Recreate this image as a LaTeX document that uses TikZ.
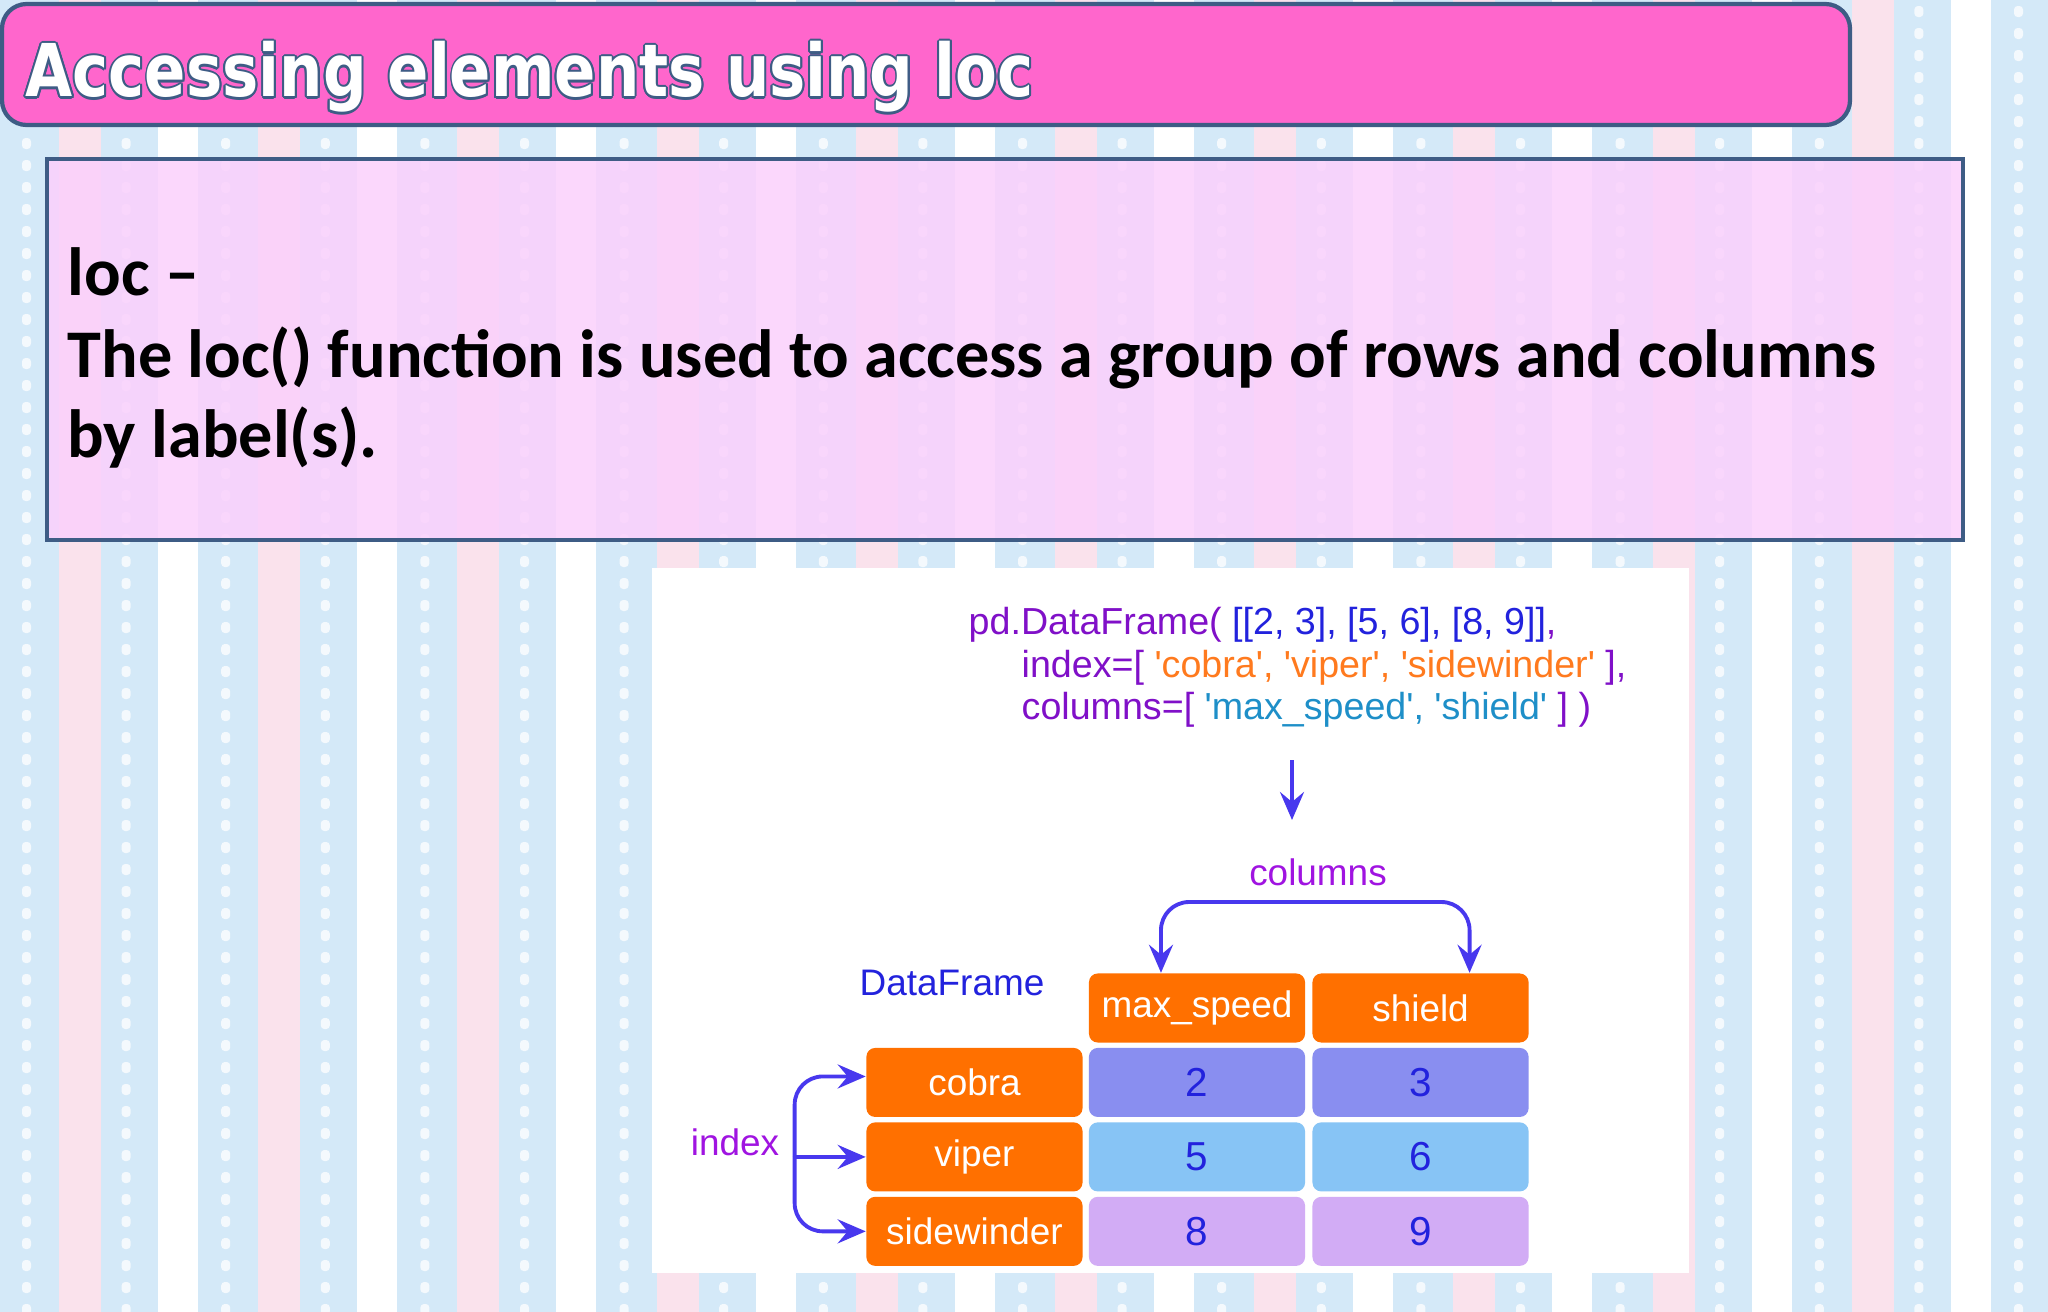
\documentclass[tikz,border=0pt]{standalone}
\usepackage{fontspec}
\setmainfont{Carlito}
\newfontfamily\titlefont{DejaVu Sans Condensed}
\newfontfamily\codefont{Liberation Sans}[Ligatures=TeXOff]
\usepackage{contour}
\usetikzlibrary{positioning}
\usetikzlibrary{arrows.meta}
\usetikzlibrary{calc}
\definecolor{figFondo}{RGB}{212,233,248}
\definecolor{figRaya}{RGB}{250,226,236}
\definecolor{figTitulo}{RGB}{255,102,204}
\definecolor{figBorde}{RGB}{62,92,133}
\definecolor{figCaja}{RGB}{251,208,252}
\definecolor{figNaranja}{RGB}{255,112,0}
\definecolor{figFila1}{RGB}{137,142,240}
\definecolor{figFila2}{RGB}{135,196,245}
\definecolor{figFila3}{RGB}{210,172,245}
\definecolor{figFlecha}{RGB}{72,56,238}
\definecolor{figMorado}{RGB}{128,16,200}
\definecolor{figLila}{RGB}{160,20,225}
\definecolor{figAzul}{RGB}{34,34,221}
\definecolor{figAnaranjado}{RGB}{255,122,30}
\definecolor{figTurquesa}{RGB}{30,143,200}
\contourlength{0.6pt}
\newcommand{\sq}{'}
\tikzset{
  celda/.style={
    rectangle, rounded corners=2.5pt, minimum width=2.16cm, minimum height=0.69cm,
    inner sep=0pt, font=\codefont\fontsize{10.5}{12}\selectfont
  },
  celdan/.style={celda, fill=figNaranja, text=white},
  celda1/.style={celda, fill=figFila1, text=figAzul, font=\codefont\fontsize{11.5}{13}\selectfont},
  celda2/.style={celda, fill=figFila2, text=figAzul, font=\codefont\fontsize{11.5}{13}\selectfont},
  celda3/.style={celda, fill=figFila3, text=figAzul, font=\codefont\fontsize{11.5}{13}\selectfont},
  codigo/.style={anchor=base west, inner sep=0pt, font=\codefont\fontsize{10.7}{12}\selectfont, text=figMorado},
  etiqueta/.style={inner sep=0pt, font=\codefont\fontsize{10.5}{12}\selectfont},
  texto/.style={anchor=base west, inner sep=0pt, font=\bfseries\fontsize{19.4}{23}\selectfont},
  punta/.tip={Stealth[length=0.28cm, width=0.24cm, inset=0.1cm]},
  flecha/.style={-punta, line width=1.1pt, draw=figFlecha},
  flechas/.style={punta-punta, line width=1.1pt, draw=figFlecha}
}

\begin{document}
\begin{tikzpicture}[x=0.01cm, y=-0.01cm]
  \useasboundingbox (0,0) rectangle (2048,1312);

  % fondo de rayas
  \fill[figFondo] (0,0) rectangle (2048,1312);
  \foreach \k in {0,...,10} {
    \fill[figRaya] ({59+\k*199.2},0) rectangle ({101+\k*199.2},1312);
    \fill[white] ({158+\k*199.2},0) rectangle ({198+\k*199.2},1312);
  }
  \foreach \c in {0,...,20}
    \foreach \r in {0,...,59}
      \fill[white, opacity=0.75, rounded corners=1pt] ({22+\c*99.6},{6+\r*22}) rectangle ++(9,11);

  % titulo
  \draw[fill=figTitulo, draw=figBorde, line width=1.2pt, rounded corners=7pt] (2,4) rectangle (1850,125);
  \node[anchor=base west, inner sep=0pt, text=white] (titulo) at (25,97)
    {\titlefont\bfseries\fontsize{20.7}{24}\selectfont\scalebox{0.93}[1]{\contour{figBorde}{Accessing elements using loc}}};

  % caja de texto
  \draw[fill=figCaja, fill opacity=0.85, draw=figBorde, line width=1.2pt] (47,159) rectangle (1963,540);
  \node[texto] (loc) at (67,295) {loc –};
  \node[texto] (desc) at (67,377) {The loc() function is used to access a group of rows and columns};
  \node[texto] (desc2) at (67,457) {by label(s).};

  % imagen
  \fill[white] (652,568) rectangle (1689,1273);
  \node[codigo] (cod1) at (968,634)
    {pd.DataFrame( \textcolor{figAzul}{[[2, 3], [5, 6], [8, 9]]},};
  \node[codigo] (cod2) at (1021,677)
    {index=[ \textcolor{figAnaranjado}{\sq cobra\sq, \sq viper\sq, \sq sidewinder\sq} ],};
  \node[codigo] (cod3) at (1021,719)
    {columns=[ \textcolor{figTurquesa}{\sq max\_speed\sq, \sq shield\sq} ] )};

  \coordinate (bajaA) at (1292,760);
  \coordinate (bajaB) at (1292,820);
  \draw[flecha] (bajaA) -- (bajaB);

  % tabla
  \node[celdan] (maxs) at (1197,1008) {max\_speed};
  \node[celdan, right=0.06cm of maxs] (shield) {shield};
  \node[celda1, below=0.04cm of maxs] (v2) {2};
  \node[celda1, below=0.04cm of shield] (v3) {3};
  \node[celda2, below=0.04cm of v2] (v5) {5};
  \node[celda2, below=0.04cm of v3] (v6) {6};
  \node[celda3, below=0.04cm of v5] (v8) {8};
  \node[celda3, below=0.04cm of v6] (v9) {9};
  \node[celdan, left=0.05cm of v2] (cobra) {cobra};
  \node[celdan, left=0.05cm of v5] (viper) {viper};
  \node[celdan, left=0.05cm of v8] (side) {sidewinder};

  \node[etiqueta, text=figAzul, anchor=base] (df) at (952,995) {DataFrame};
  \node[etiqueta, text=figLila, anchor=base] (cols) at (1318,885) {columns};
  \node[etiqueta, text=figLila, anchor=base] (idx) at (735,1155) {index};

  \coordinate (colsup) at (1310,902);
  \draw[flechas, rounded corners=8pt] ([xshift=-0.36cm]maxs.north) |- (colsup) -| ([xshift=0.49cm]shield.north);

  \coordinate (idxmed) at ([xshift=-0.71cm]viper.west);
  \draw[flecha, rounded corners=8pt] (idxmed) |- ([yshift=0.06cm]cobra.west);
  \draw[flecha, rounded corners=8pt] (idxmed) |- (side.west);
  \draw[flecha] (idxmed) -- (viper.west);
\end{tikzpicture}
\end{document}
